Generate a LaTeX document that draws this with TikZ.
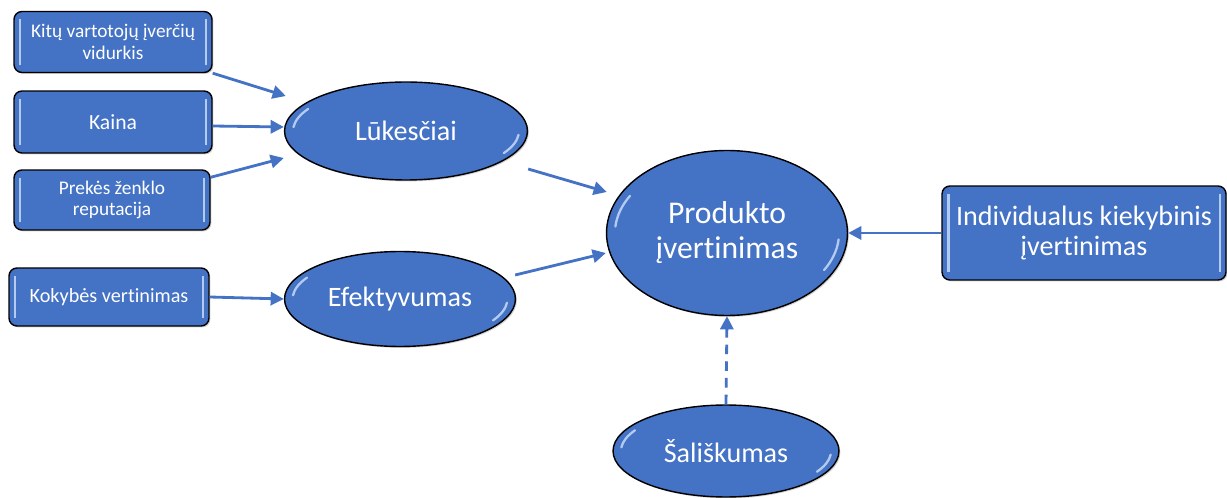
\documentclass[tikz,border=0pt]{standalone}
\usepackage{fontspec}
\setmainfont{Carlito}[Ligatures={NoCommon}]
\usepackage{tikz}
\usetikzlibrary{positioning}
\usetikzlibrary{calc}
\usetikzlibrary{shapes.geometric}
\usetikzlibrary{arrows.meta}
\usetikzlibrary{shadows}
\definecolor{officeblue}{HTML}{4472C4}
\definecolor{glossblue}{HTML}{B4CBF0}

\begin{document}
\begin{tikzpicture}[x=0.02cm,y=-0.02cm,
					factorbox/.style={rectangle, rounded corners=4.5pt, draw=black, thick, fill=officeblue, text=white, align=center, inner sep=0pt,
						font=\fontsize{11.5}{12.5}\selectfont,
						drop shadow={opacity=0.35, shadow xshift=0.8pt, shadow yshift=-0.8pt},
						path picture={
							\draw[glossblue, line width=1.5pt] ([xshift=3.5pt,yshift=-4.5pt]path picture bounding box.north west) -- ([xshift=3.5pt,yshift=4.5pt]path picture bounding box.south west);
							\draw[glossblue, line width=1.5pt] ([xshift=-3.5pt,yshift=-4.5pt]path picture bounding box.north east) -- ([xshift=-3.5pt,yshift=4.5pt]path picture bounding box.south east);
						}},
					roundnode/.style={ellipse, draw=black, thick, fill=officeblue, text=white, align=center, inner sep=0pt,
						font=\fontsize{16}{18}\selectfont,
						drop shadow={opacity=0.35, shadow xshift=0.8pt, shadow yshift=-0.8pt},
						path picture={
							\draw[glossblue, line width=1.3pt, line cap=round]
								let \p1=(path picture bounding box.north east), \p2=(path picture bounding box.center),
									\n1={0.93*(\x1-\x2)}, \n2={0.9*(\y1-\y2)} in
								({\x2+\n1*cos(150)*1pt},{\y2+\n2*sin(150)*1pt}) arc[start angle=150, end angle=175, x radius={\n1*1pt}, y radius={\n2*1pt}]
								({\x2+\n1*cos(330)*1pt},{\y2+\n2*sin(330)*1pt}) arc[start angle=330, end angle=355, x radius={\n1*1pt}, y radius={\n2*1pt}];
						}},
					flow/.style={draw=officeblue, line width=1.6pt, -{Triangle[length=7.5pt,width=7.5pt]}},
					]
					\fill[white] (0,0) rectangle (1227,497);
					%Nodes
					\node[factorbox, minimum width=3.96cm, minimum height=1.22cm, font=\fontsize{11}{12.3}\selectfont] (kitu) at (113,42) {Kitų vartotojų įverčių\\vidurkis};
					\node[factorbox, minimum width=3.96cm, minimum height=1.24cm, font=\fontsize{12.3}{13}\selectfont] (kaina) at (113,122) {Kaina};
					\node[factorbox, minimum width=3.92cm, minimum height=1.2cm, font=\fontsize{11}{12.3}\selectfont] (prekes) at (112,200) {Prekės ženklo\\reputacija};
					\node[factorbox, minimum width=4cm, minimum height=1.16cm] (kokybe) at (109,297) {Kokybės vertinimas};
					\node[factorbox, minimum width=5.68cm, minimum height=1.88cm, font=\fontsize{16}{17.4}\selectfont] (individualus) at (1084,233) {Individualus kiekybinis\\įvertinimas};
					
					\node[roundnode, minimum width=4.86cm, minimum height=1.96cm] (lukesciai) at (406,131) {Lūkesčiai};
					\node[roundnode, minimum width=4.62cm, minimum height=1.9cm] (efektyvumas) at (400,299) {Efektyvumas};
					\node[roundnode, minimum width=4.82cm, minimum height=3.3cm, font=\fontsize{18}{20}\selectfont] (produktas) at (727,233) {Produkto\\įvertinimas};
					\node[roundnode, minimum width=4.52cm, minimum height=1.84cm] (saliskumas) at (726,451) {Šališkumas};
					
					%Lines
					\draw[flow] (kitu.south east) -- ($(lukesciai.west)+(2,-35)$);
					\draw[flow] ($(kaina.east)+(0,4)$) -- ($(lukesciai.west)+(0,-4)$);
					\draw[flow] ($(prekes.north east)+(0,8)$) -- ($(lukesciai.west)+(0,27)$);
					\draw[flow] (kokybe.east) -- (efektyvumas.west);
					\draw[flow] ($(lukesciai.east)+(0,38)$) -- ($(produktas.west)+(1,-41)$);
					\draw[flow] ($(efektyvumas.east)+(-1,-24)$) -- ($(produktas.west)+(0,20)$);
					\draw[flow] (individualus.west) -- (produktas.east);
					\draw[flow, dash pattern=on 5.5pt off 4pt] (saliskumas.north) -- (produktas.south);
				\end{tikzpicture}
\end{document}
